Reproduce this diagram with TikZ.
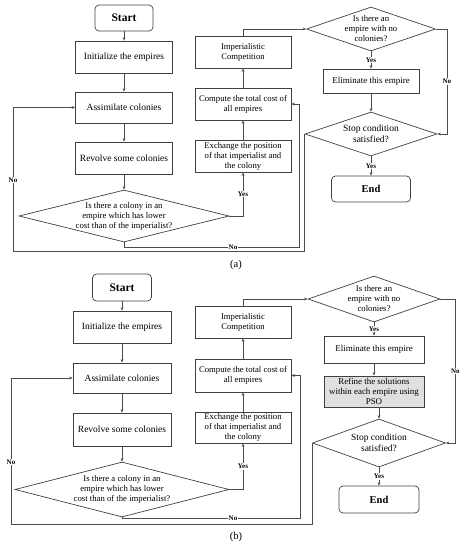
\documentclass[tikz,border=0pt]{standalone}
\usepackage{fontspec}
\setmainfont{Liberation Serif}
\usetikzlibrary{shapes.geometric,arrows.meta}
\begin{document}
\begin{tikzpicture}[x=1pt,y=-1pt,
  ln/.style={draw=black!70, line width=0.6pt},
  arr/.style={ln, -{Stealth[length=3.5pt,width=2.8pt]}},
  box/.style 2 args={draw=black!75, line width=0.7pt, rectangle, minimum width=#1, minimum height=#2, inner sep=1pt, align=center},
  rbox/.style 2 args={box={#1}{#2}, rounded corners=4pt, font=\bfseries\fontsize{11.5}{13}\selectfont},
  dia/.style 2 args={draw=black!75, line width=0.7pt, diamond, minimum width=#1, minimum height=#2, inner sep=0pt},
  fA/.style={font=\fontsize{9.5}{11}\selectfont},
  fB/.style={font=\fontsize{8.7}{10}\selectfont},
  fC/.style={font=\fontsize{8.9}{9.8}\selectfont},
  lbl/.style={font=\bfseries\fontsize{7}{8}\selectfont, fill=white, inner sep=0.8pt},
  captext/.style={font=\fontsize{10.5}{12}\selectfont}
]
\useasboundingbox (0,0) rectangle (465,550);

% ================= panel (a) =================
\node[rbox={58pt}{26pt}] (stA) at (124,18) {Start};
\node[box={97pt}{32pt}, fA] (inA) at (124,57) {Initialize the empires};
\node[box={97pt}{31pt}, fA] (asA) at (124,107.5) {Assimilate colonies};
\node[box={97pt}{32pt}, fA] (reA) at (124,158) {Revolve some colonies};
\node[dia={210pt}{52pt}] (d1A) at (124,216) {};
\node[fB, align=center] (d1At) at (d1A) {Is there a colony in an\\empire which has lower\\cost than of the imperialist?};

\node[box={96pt}{32pt}, fB] (imA) at (243,52) {Imperialistic\\Competition};
\node[box={96pt}{32pt}, fB] (coA) at (243,104) {Compute the total cost of\\all empires};
\node[box={96pt}{32pt}, fB] (exA) at (243,156) {Exchange the position\\of that imperialist and\\the colony};

\node[dia={129pt}{44pt}] (d2A) at (371,29) {};
\node[fB, align=center] (d2At) at (d2A) {Is there an\\empire with no\\colonies?};
\node[box={96pt}{24pt}, font=\fontsize{9}{11}\selectfont] (elA) at (371,81) {Eliminate this empire};
\node[dia={132pt}{44pt}] (d3A) at (371,134) {};
\node[fA, align=center] (d3At) at (d3A) {Stop condition\\satisfied?};
\node[rbox={79pt}{26pt}, font=\bfseries\fontsize{10.5}{12}\selectfont] (enA) at (371,189) {End};

\coordinate (kA) at (299,247);
\coordinate (lA) at (13,251);

\draw[arr] (stA) -- (inA);
\draw[arr] (inA) -- (asA);
\draw[arr] (asA) -- (reA);
\draw[arr] (reA) -- (d1A.north);
\draw[arr] (d1A.east) -| (exA.south) node[pos=0.75, lbl] {Yes};
\draw[arr] (exA) -- (coA);
\draw[arr] (coA) -- (imA);
\draw[arr] (imA.north) |- (d2A.west);
\draw[arr] (d2A.south) -- (elA.north) node[midway, lbl] {Yes};
\draw[arr] (elA.south) -- (d3A.north);
\draw[arr] (d3A.south) -- (enA.north) node[midway, lbl] {Yes};
\draw[arr] (d2A.east) -- ++(11,0) |- (d3A.east) node[pos=0.25, lbl] {No};
\draw[arr] (d1A.south) |- (kA) |- (coA.east);
\node[lbl] (n1A) at (233,247) {No};
\draw[arr] (d3A.west) |- (lA) |- (asA.west);
\node[lbl] (n2A) at (13,180) {No};

\node[captext] (capA) at (236,265) {(a)};

% ================= panel (b) =================
\node[rbox={59pt}{27pt}] (stB) at (122,287.5) {Start};
\node[box={98pt}{32pt}, fA] (inB) at (122,327) {Initialize the empires};
\node[box={98pt}{30pt}, fA] (asB) at (122,378) {Assimilate colonies};
\node[box={98pt}{33pt}, fA] (reB) at (122,429.5) {Revolve some colonies};
\node[dia={214pt}{55pt}] (d1B) at (122,489.5) {};
\node[fB, align=center] (d1Bt) at (d1B) {Is there a colony in an\\empire which has lower\\cost than of the imperialist?};

\node[box={96pt}{32pt}, fB] (imB) at (243,322) {Imperialistic\\Competition};
\node[box={96pt}{33pt}, fB] (coB) at (243,375.5) {Compute the total cost of\\all empires};
\node[box={96pt}{31pt}, fB] (exB) at (243,427.5) {Exchange the position\\of that imperialist and\\the colony};

\node[dia={132pt}{46pt}] (d2B) at (374,299) {};
\node[fB, align=center] (d2Bt) at (d2B) {Is there an\\empire with no\\colonies?};
\node[box={100pt}{27pt}, font=\fontsize{9}{11}\selectfont] (elB) at (374,349.5) {Eliminate this empire};
\node[box={100pt}{31pt}, fC, fill=black!12] (rfB) at (374,391.5) {Refine the solutions\\within each empire using\\PSO};
\node[dia={133pt}{48pt}] (d3B) at (379,443) {};
\node[fA, align=center] (d3Bt) at (d3B) {Stop condition\\satisfied?};
\node[rbox={80pt}{27pt}, font=\bfseries\fontsize{10.5}{12}\selectfont] (enB) at (379,499.5) {End};

\coordinate (kB) at (300,518);
\coordinate (lB) at (11,524);

\draw[arr] (stB) -- (inB);
\draw[arr] (inB) -- (asB);
\draw[arr] (asB) -- (reB);
\draw[arr] (reB) -- (d1B.north);
\draw[arr] (d1B.east) -| (exB.south) node[pos=0.75, lbl] {Yes};
\draw[arr] (exB) -- (coB);
\draw[arr] (coB) -- (imB);
\draw[arr] (imB.north) |- (d2B.west);
\draw[arr] (d2B.south) -- (elB.north) node[midway, lbl] {Yes};
\draw[arr] (elB) -- (rfB);
\draw[arr] (rfB.south -| d3B.north) -- (d3B.north);
\draw[arr] (d3B.south) -- (enB.north) node[midway, lbl] {Yes};
\draw[arr] (d2B.east) -- ++(15,0) |- (d3B.east) node[pos=0.25, lbl] {No};
\draw[arr] (d1B.south) |- (kB) |- (coB.east);
\node[lbl] (n1B) at (233,518) {No};
\draw[arr] (d3B.west) |- (lB) |- (asB.west);
\node[lbl] (n2B) at (11,462) {No};

\node[captext] (capB) at (236,537) {(b)};
\end{tikzpicture}
\end{document}
